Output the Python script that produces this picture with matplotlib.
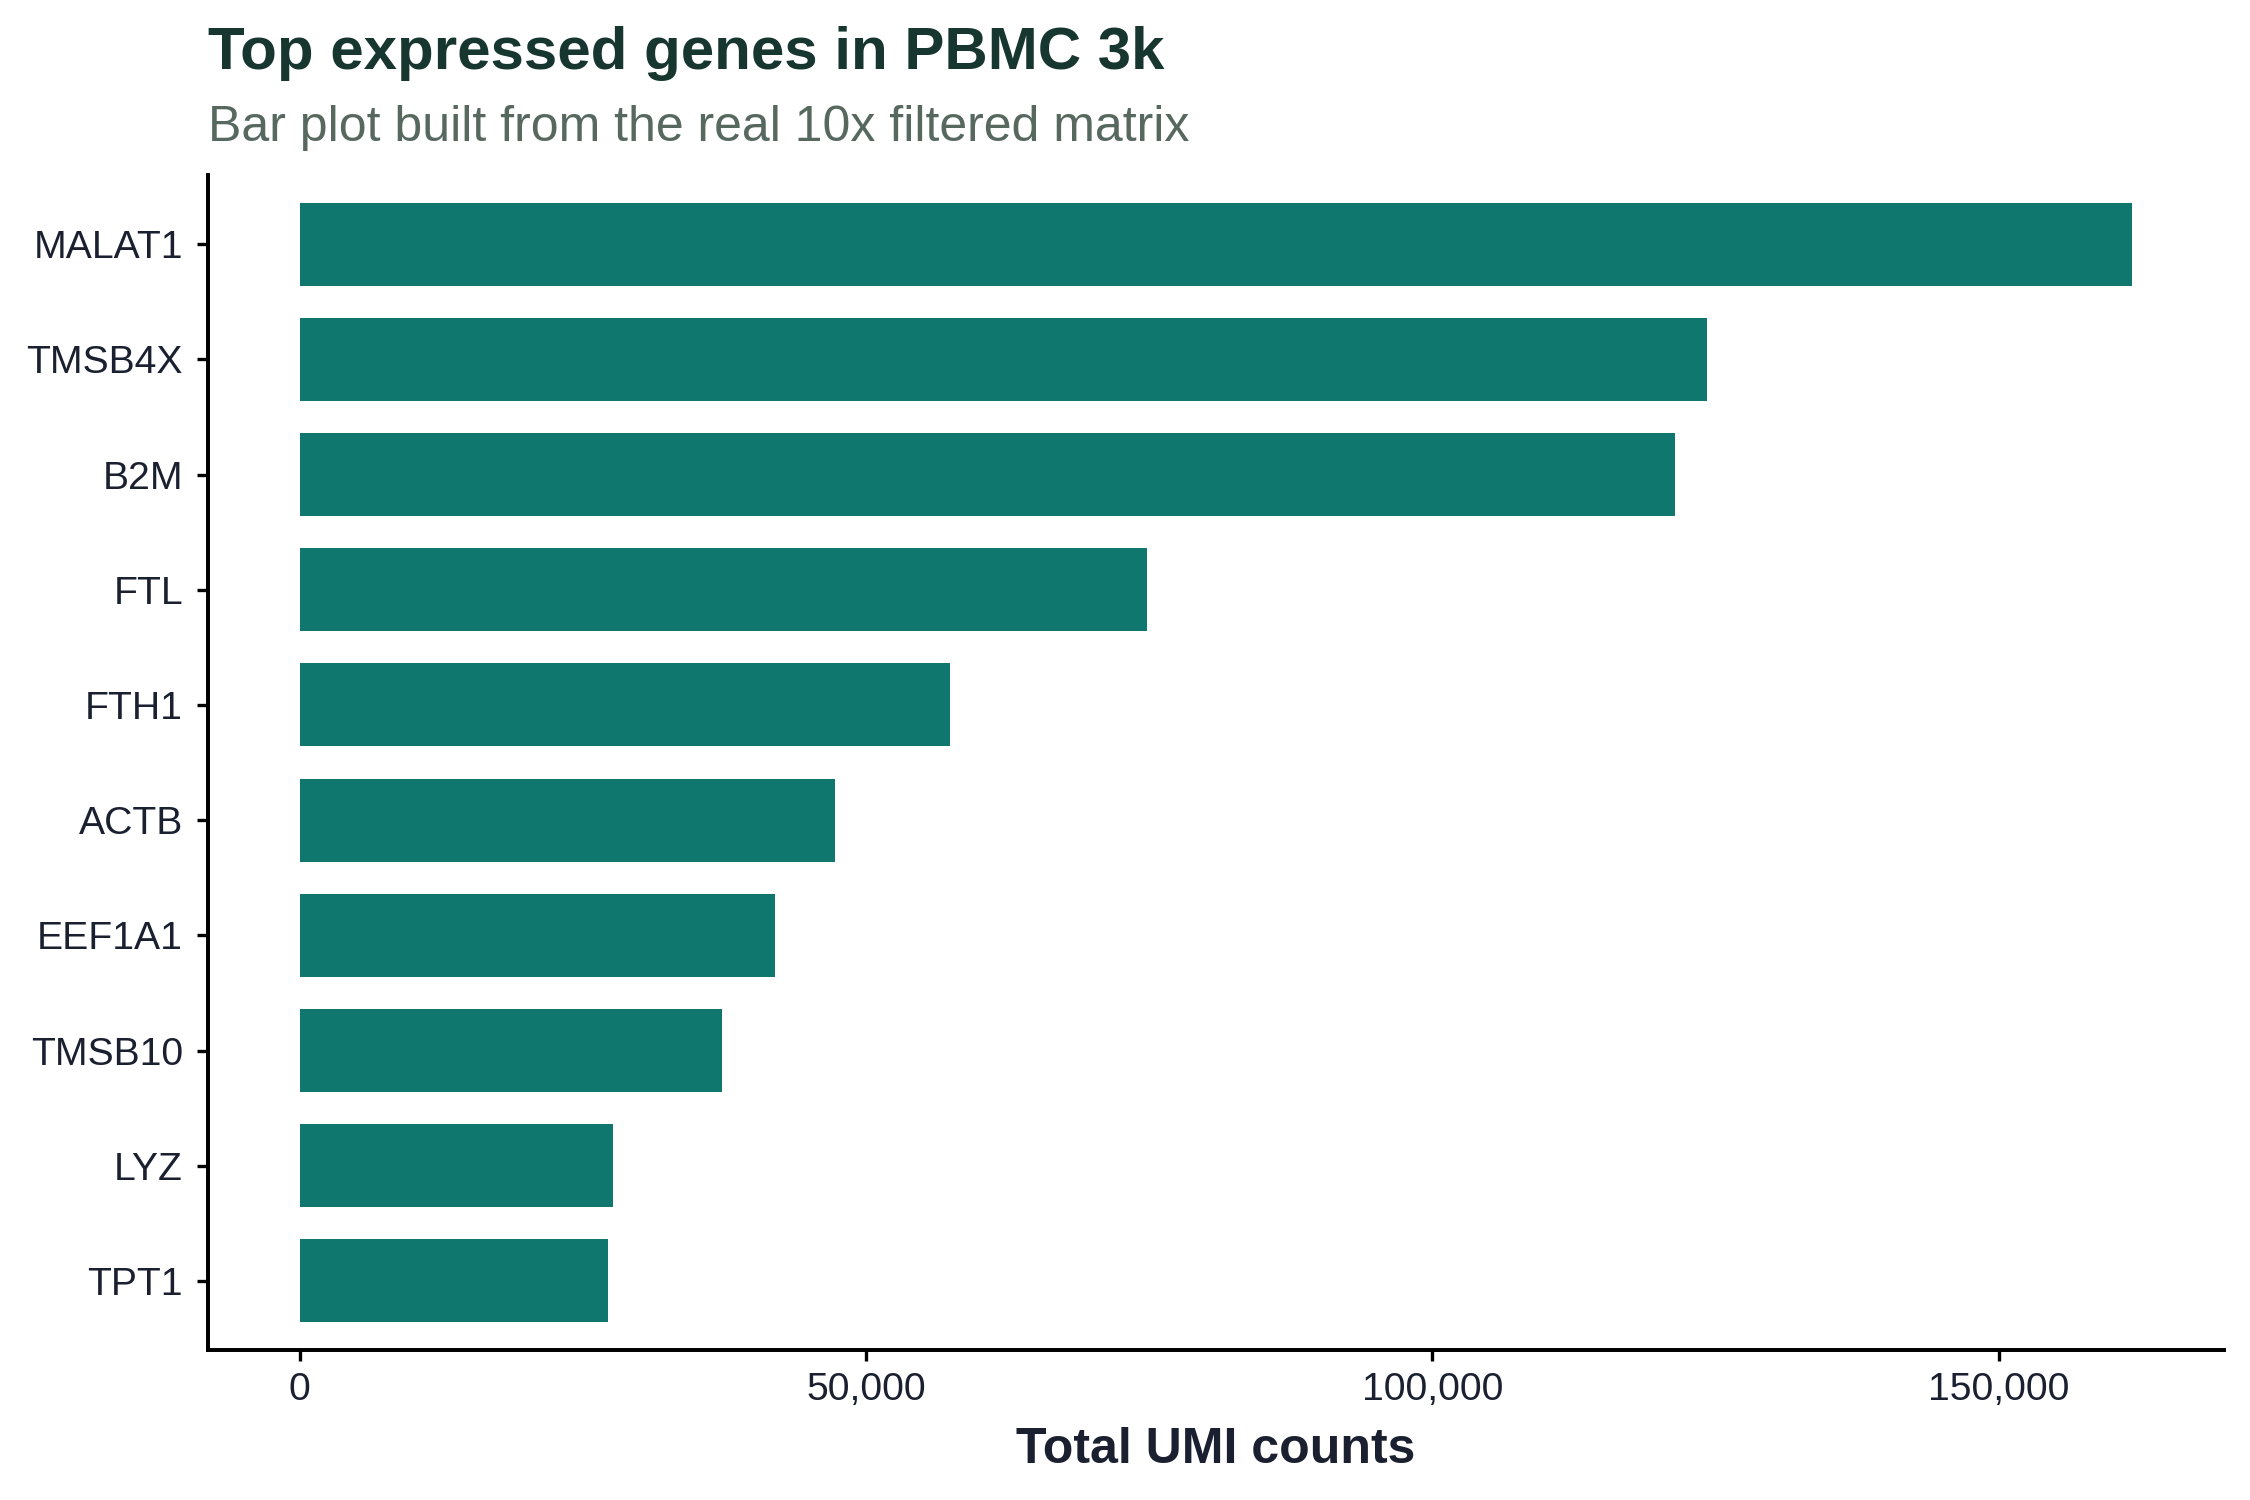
import matplotlib

matplotlib.use("Agg")
import matplotlib.pyplot as plt
from matplotlib.ticker import FuncFormatter

plt.rcParams["font.family"] = ["Liberation Sans", "DejaVu Sans"]

genes = ["MALAT1", "TMSB4X", "B2M", "FTL", "FTH1", "ACTB", "EEF1A1", "TMSB10", "LYZ", "TPT1"]
umi_counts = [161800, 124300, 121400, 74800, 57400, 47300, 42000, 37300, 27700, 27200]
x_ticks = [0, 50000, 100000, 150000]

BAR = "#10776e"
INK = "#1a2030"

fig = plt.figure(figsize=(15, 10), dpi=150)
ax = fig.add_axes([0.0924, 0.1, 0.896, 0.7833])

# top gene at the top, like a flipped ggplot bar chart
ypos = list(range(len(genes), 0, -1))
ax.barh(ypos, umi_counts, height=0.72, color=BAR, zorder=2)

top = max(umi_counts)
ax.set_xlim(-0.05 * top, 1.05 * top)
ax.set_ylim(0.4, len(genes) + 0.6)
ax.set_yticks(ypos)
ax.set_yticklabels(genes)
ax.set_xticks(x_ticks)
ax.xaxis.set_major_formatter(FuncFormatter(lambda v, _: f"{int(v):,}"))

for side in ("top", "right"):
    ax.spines[side].set_visible(False)
for side in ("left", "bottom"):
    ax.spines[side].set_linewidth(1.9)
    ax.spines[side].set_color("black")

ax.tick_params(axis="both", length=5.5, width=1.6, color="black",
               labelsize=18.8, labelcolor=INK)
ax.tick_params(axis="y", pad=6.5)
ax.tick_params(axis="x", pad=5)

ax.set_xlabel("Total UMI counts", fontsize=24, fontweight="bold",
              color=INK, labelpad=9)

fig.text(0.0924, 0.954, "Top expressed genes in PBMC 3k", fontsize=28.8,
         fontweight="bold", color="#17362f", va="baseline", ha="left")
fig.text(0.0924, 0.906, "Bar plot built from the real 10x filtered matrix",
         fontsize=24, color="#57695f", va="baseline", ha="left")

fig.savefig("out.png", dpi=150)
plt.close(fig)
